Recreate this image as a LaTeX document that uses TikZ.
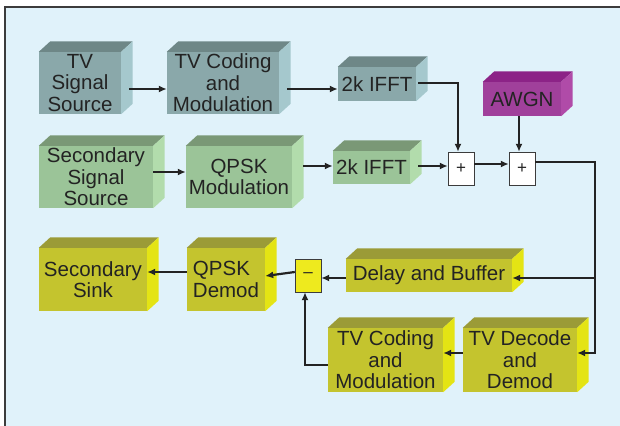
\documentclass[tikz,border=0pt]{standalone}
\usepackage{fontspec}
\setmainfont{Liberation Sans}
\usetikzlibrary{arrows.meta,positioning}

\definecolor{BgBlue}{HTML}{E0F2FA}
\definecolor{FrameGray}{HTML}{3C3C3C}
\definecolor{TextGray}{HTML}{232323}
\definecolor{TvFront}{HTML}{8AA8AA}
\definecolor{TvTop}{HTML}{6E8787}
\definecolor{TvSide}{HTML}{A5C8CD}
\definecolor{SecFront}{HTML}{9BC498}
\definecolor{SecTop}{HTML}{7A9876}
\definecolor{SecSide}{HTML}{B2DCAC}
\definecolor{NoiseFront}{HTML}{A0409B}
\definecolor{NoiseTop}{HTML}{8C2387}
\definecolor{NoiseSide}{HTML}{B04BA8}
\definecolor{RxFront}{HTML}{C4C42E}
\definecolor{RxTop}{HTML}{9B9B37}
\definecolor{RxSide}{HTML}{E4E414}
\definecolor{MinusFill}{HTML}{EEEA1E}

\begin{document}
\begin{tikzpicture}[x=1pt,y=-1pt]
	\tikzset{BlockStyle/.style = {
			shape=rectangle,
			inner sep=0pt,
			align=center,
			text=TextGray,
			font=\fontsize{20.5}{21.5}\selectfont
	}}
	\tikzset{SumStyle/.style = {
			shape=rectangle,
			draw=FrameGray,
			inner sep=0pt,
			minimum width=26,
			minimum height=33,
			text=TextGray,
			font=\fontsize{17}{17}\selectfont
	}}
	\tikzset{LinkStyle/.style = {
			draw=TextGray,
			line width=2.2pt,
			-{Latex[length=8pt,width=7pt]}
	}}
	\useasboundingbox (0,0) rectangle (620,425);
	% panel
	\fill[BgBlue] (5,7) rectangle (621,426);
	\draw[FrameGray, line width=1.5pt] (5,426) -- (5,7) -- (621,7);

	% transmitter
	\node[BlockStyle, fill=TvFront, minimum width=82, minimum height=62] (tvsrc) at (80,83) {TV\\Signal\\Source};
	\node[BlockStyle, fill=TvFront, minimum width=112, minimum height=62] (tvcod) at (223,83) {TV Coding\\and\\Modulation};
	\node[BlockStyle, fill=TvFront, minimum width=78, minimum height=34] (ifftA) at (377,84) {2k IFFT};
	\node[BlockStyle, fill=SecFront, minimum width=114, minimum height=62] (secsrc) at (96,177) {Secondary\\Signal\\Source};
	\node[BlockStyle, fill=SecFront, minimum width=106, minimum height=62] (qpskmod) at (239,177) {QPSK\\Modulation};
	\node[BlockStyle, fill=SecFront, minimum width=77, minimum height=33] (ifftB) at (371.5,167.5) {2k IFFT};
	\node[BlockStyle, fill=NoiseFront, minimum width=78, minimum height=34] (awgn) at (522,99) {AWGN};
	\node[SumStyle, fill=white] (plusA) at (461,168.5) {+};
	\node[SumStyle, fill=white] (plusB) at (522,168.5) {+};

	% receiver
	\node[BlockStyle, fill=RxFront, minimum width=108, minimum height=63] (sink) at (93,279.5) {Secondary\\Sink};
	\node[BlockStyle, fill=RxFront, minimum width=78, minimum height=63, align=left] (qpskdem) at (226,279.5) {QPSK\\Demod};
	\node[SumStyle, fill=MinusFill] (minus) at (308,275.5) {\textendash};
	\node[BlockStyle, fill=RxFront, minimum width=166, minimum height=33] (delay) at (429,275.5) {Delay and Buffer};
	\node[BlockStyle, fill=RxFront, minimum width=115, minimum height=64] (tvcodB) at (385.5,360) {TV Coding\\and\\Modulation};
	\node[BlockStyle, fill=RxFront, minimum width=114, minimum height=64] (tvdec) at (520,360) {TV Decode\\and\\Demod};

	% depth of the blocks
	\foreach \n/\c in {tvsrc/Tv, tvcod/Tv, ifftA/Tv, secsrc/Sec, qpskmod/Sec, ifftB/Sec, awgn/Noise,
		sink/Rx, qpskdem/Rx, delay/Rx, tvcodB/Rx, tvdec/Rx} {
		\fill[\c Top] (\n.north west) -- (\n.north east) -- ([shift={(11.5,-10.5)}]\n.north east) -- ([shift={(11.5,-10.5)}]\n.north west) -- cycle;
		\fill[\c Side] (\n.north east) -- (\n.south east) -- ([shift={(11.5,-10.5)}]\n.south east) -- ([shift={(11.5,-10.5)}]\n.north east) -- cycle;
	}

	% links
	\draw[LinkStyle] ([shift={(8,6)}]tvsrc.east) -- ([shift={(0,6)}]tvcod.west);
	\draw[LinkStyle] ([shift={(8,6)}]tvcod.east) -- ([shift={(0,5)}]ifftA.west);
	\draw[LinkStyle] ([shift={(2,-1)}]ifftA.east) -| ([shift={(-3,0)}]plusA.north);
	\draw[LinkStyle] ([shift={(0,-5)}]secsrc.east) -- ([shift={(0,-5)}]qpskmod.west);
	\draw[LinkStyle] ([shift={(11,-11)}]qpskmod.east) -- ([shift={(0,-1.5)}]ifftB.west);
	\draw[LinkStyle] ([shift={(8,-1.5)}]ifftB.east) -- ([shift={(0,-2.5)}]plusA.west);
	\draw[LinkStyle] ([shift={(0,-4.5)}]plusA.east) -- ([shift={(0,-4.5)}]plusB.west);
	\draw[LinkStyle] ([shift={(-3,0)}]awgn.south) -- ([shift={(-3,0)}]plusB.north);
	\coordinate (split) at (595,278);
	\draw[LinkStyle] ([shift={(0,-6.5)}]plusB.east) -| (split) |- ([shift={(0,-7)}]tvdec.east);
	\draw[LinkStyle] (split) -- ([shift={(0,2.5)}]delay.east);
	\draw[LinkStyle] ([shift={(0,2.5)}]delay.west) -- ([shift={(0,2.5)}]minus.east);
	\draw[LinkStyle] ([shift={(0,-3.5)}]minus.west) -- ([shift={(0,-3.5)}]qpskdem.east);
	\draw[LinkStyle] ([shift={(0,-7.5)}]qpskdem.west) -- ([shift={(0,-7.5)}]sink.east);
	\draw[LinkStyle] ([shift={(0,-7)}]tvdec.west) -- ([shift={(0,-7)}]tvcodB.east);
	\draw[LinkStyle] ([shift={(0,5)}]tvcodB.west) -| ([shift={(-3,0)}]minus.south);
\end{tikzpicture}
\end{document}
